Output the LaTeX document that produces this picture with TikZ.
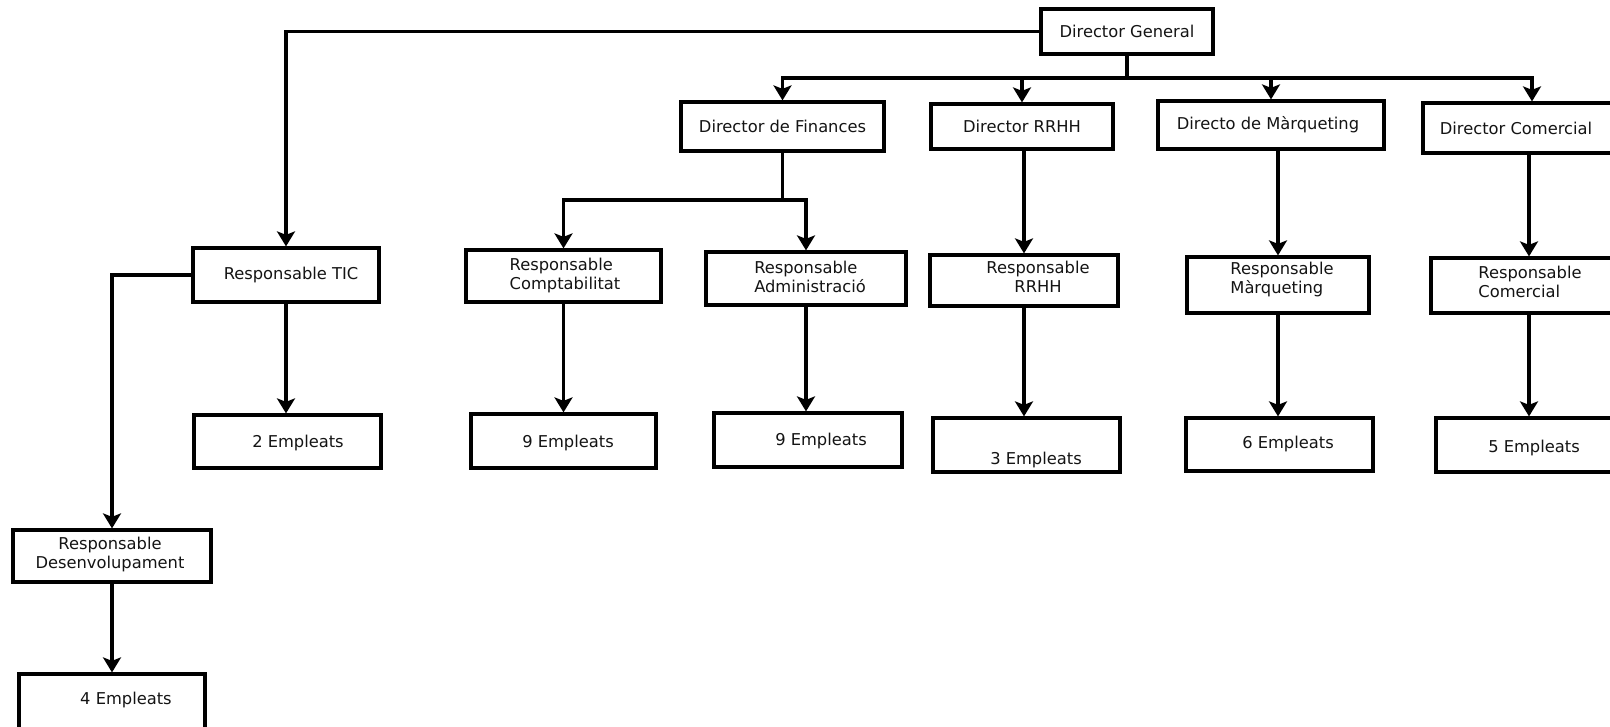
\documentclass[tikz,border=0pt]{standalone}
\usepackage{fontspec}
\setmainfont{DejaVu Sans}
\usetikzlibrary{arrows.meta}
\newcommand\tx[3]{\hspace*{#1}\raisebox{#2}[0pt][0pt]{#3}}
\newcommand\twol[3]{\begin{tabular}{@{}#1@{}}#2\\#3\end{tabular}}
\begin{document}
\begin{tikzpicture}[x=1pt,y=-1pt,
  bx/.style={draw, line width=3.2pt, inner sep=0pt, font=\fontsize{16.3}{19}\selectfont, text=black!92},
  arr/.style={line width=3.2pt, -{Stealth[length=15pt,width=18pt,inset=3.5pt]}}]
\useasboundingbox (0,0) rectangle (1610,726);
\fill[white] (0,0) rectangle (1610,726);
% level 0
\node[bx, minimum width=172pt, minimum height=45pt] (dg) at (1127,31.5) {\tx{0pt}{-6pt}{Director General}};
% level 1
\node[bx, minimum width=203pt, minimum height=49pt] (dfin) at (782.5,126.5) {\tx{0pt}{-6pt}{Director de Finances}};
\node[bx, minimum width=182pt, minimum height=45pt] (drh) at (1022,126.5) {\tx{0pt}{-6pt}{Director RRHH}};
\node[bx, minimum width=226pt, minimum height=48pt] (dmq) at (1271,125) {\tx{-6pt}{-4.3pt}{Directo de Màrqueting}};
\node[bx, minimum width=190pt, minimum height=50pt] (dcm) at (1518,128) {\tx{-4pt}{-6pt}{Director Comercial}};
% level 2
\node[bx, minimum width=186pt, minimum height=54pt] (tic) at (286,275) {\tx{10pt}{-4pt}{Responsable TIC}};
\node[bx, minimum width=195pt, minimum height=52pt] (comp) at (563.5,276) {\tx{3pt}{-4.5pt}{\twol{l}{Responsable}{Comptabilitat}}};
\node[bx, minimum width=200pt, minimum height=53pt] (adm) at (806,278.5) {\tx{8pt}{-5pt}{\twol{l}{Responsable}{Administració}}};
\node[bx, minimum width=188pt, minimum height=51pt] (rrh) at (1024,280.5) {\tx{28pt}{-3pt}{\twol{c}{Responsable}{RRHH}}};
\node[bx, minimum width=182pt, minimum height=56pt] (rmq) at (1278,285) {\tx{8pt}{0.5pt}{\twol{l}{Responsable}{Màrqueting}}};
\node[bx, minimum width=182pt, minimum height=55pt] (rcm) at (1522,285.5) {\tx{16pt}{-3pt}{\twol{l}{Responsable}{Comercial}}};
\node[bx, minimum width=198pt, minimum height=52pt] (dev) at (112,556) {\tx{-4pt}{-3.5pt}{\twol{c}{Responsable}{Desenvolupament}}};
% level 3
\node[bx, minimum width=187pt, minimum height=53pt] (e2) at (287.5,441.5) {\tx{21pt}{-5.5pt}{2 Empleats}};
\node[bx, minimum width=185pt, minimum height=54pt] (e9a) at (563.5,441) {\tx{9pt}{-6pt}{9 Empleats}};
\node[bx, minimum width=188pt, minimum height=54pt] (e9b) at (808,440) {\tx{26pt}{-5pt}{9 Empleats}};
\node[bx, minimum width=187pt, minimum height=54pt] (e3) at (1026.5,445) {\tx{19pt}{-19pt}{3 Empleats}};
\node[bx, minimum width=187pt, minimum height=53pt] (e6) at (1279.5,444.5) {\tx{17pt}{-3.5pt}{6 Empleats}};
\node[bx, minimum width=177pt, minimum height=54pt] (e5) at (1524.5,445) {\tx{19pt}{-7pt}{5 Empleats}};
\node[bx, minimum width=186pt, minimum height=56pt] (e4) at (112,702) {\tx{28pt}{-2pt}{4 Empleats}};
% helper coordinates
\coordinate (bus) at (0,78);
\coordinate (fbus) at (0,200);
\coordinate (dcmin) at ([xshift=14pt]dcm.north);
\coordinate (rcmin) at ([xshift=7pt]rcm.north);
% connectors
\draw[arr] (dg.west) -| (tic.north);
\draw[arr] (dg.south) |- (bus -| dfin.north) -- (dfin.north);
\draw[arr] (dg.south) |- (bus -| drh.north) -- (drh.north);
\draw[arr] (dg.south) |- (bus -| dmq.north) -- (dmq.north);
\draw[arr] (dg.south) |- (bus -| dcmin) -- (dcmin);
\draw[arr] (dfin.south) |- (fbus -| comp.north) -- (comp.north);
\draw[arr] (dfin.south) |- (fbus -| adm.north) -- (adm.north);
\draw[arr] (rrh.north |- drh.south) -- (rrh.north);
\draw[arr] (rmq.north |- dmq.south) -- (rmq.north);
\draw[arr] (rcmin |- dcm.south) -- (rcmin);
\draw[arr] (tic.west) -| (dev.north);
\draw[arr] (tic.south) -- (tic.south |- e2.north);
\draw[arr] (comp.south) -- (comp.south |- e9a.north);
\draw[arr] (adm.south) -- (adm.south |- e9b.north);
\draw[arr] (rrh.south) -- (rrh.south |- e3.north);
\draw[arr] (rmq.south) -- (rmq.south |- e6.north);
\draw[arr] (rcmin |- rcm.south) -- (rcmin |- e5.north);
\draw[arr] (dev.south) -- (dev.south |- e4.north);
\end{tikzpicture}
\end{document}
